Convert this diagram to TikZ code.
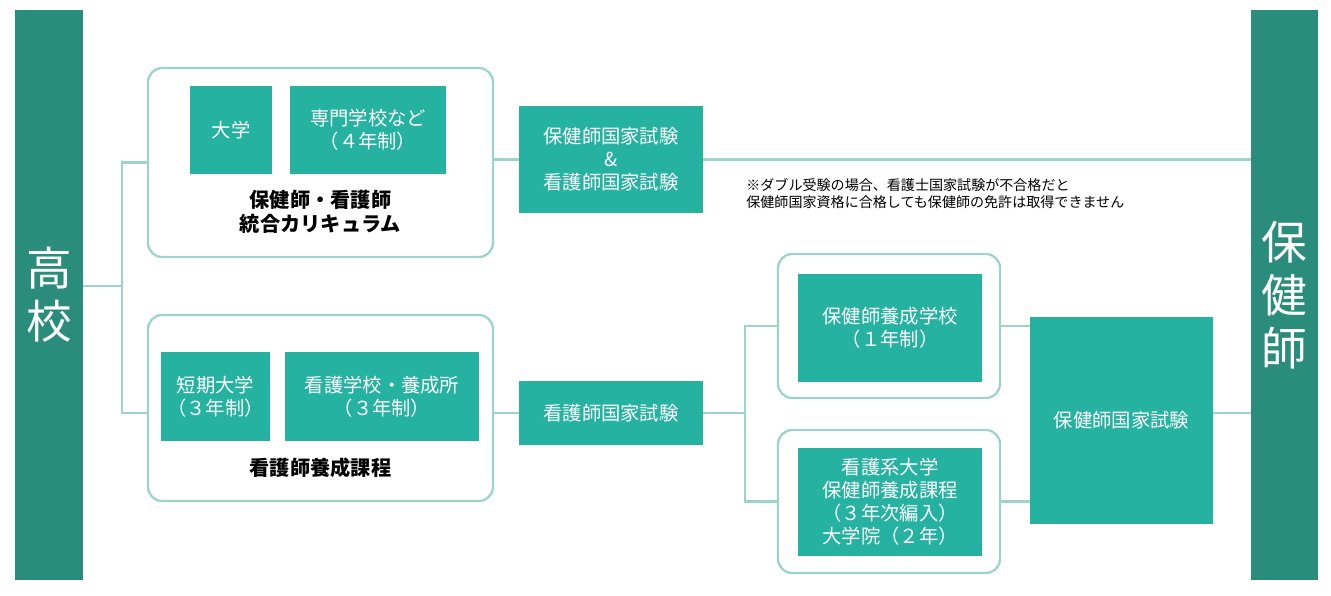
\documentclass[tikz,border=0pt]{standalone}
\usepackage{fontspec}
\setmainfont{Noto Sans CJK JP}
\usepackage{xcolor}
\usetikzlibrary{positioning}
\definecolor{bardark}{HTML}{2A8C7A}
\definecolor{boxteal}{HTML}{26B2A0}
\definecolor{lineteal}{HTML}{9CD4CA}
\tikzstyle{bar} = [rectangle, fill=bardark, text=white, inner sep=0pt, align=center, font=\fontsize{26}{30}\selectfont]
\tikzstyle{stage} = [rectangle, fill=boxteal, text=white, inner sep=0pt, align=center, font=\fontsize{11}{13}\selectfont]
\tikzstyle{group} = [rectangle, rounded corners=8pt, draw=lineteal, line width=1.3pt, inner sep=0pt]
\tikzstyle{link} = [draw=lineteal, line width=1.3pt]

\begin{document}
\begin{tikzpicture}[x=0.02cm, y=-0.02cm]
	\useasboundingbox (0,0) rectangle (1331,595);

	% side bars
	\node (koko) [bar, minimum width=1.36cm, minimum height=11.4cm] at (49,295) {高\\校};
	\node (hokenshi) [bar, minimum width=1.34cm, minimum height=11.4cm] at (1284.5,295) {保\\健\\師};

	% upper route
	\node (upper) [group, minimum width=6.9cm, minimum height=3.78cm] at (320.5,162.5) {};
	\node (daigaku) [stage, minimum width=1.64cm, minimum height=1.76cm] at (231,130) {大学};
	\node (senmon) [stage, minimum width=3.12cm, minimum height=1.76cm] at (368,130) {専門学校など\\（４年制）};
	\node (togo) [align=center, font=\fontsize{11.5}{14}\selectfont\bfseries] at (320.5,212) {保健師・看護師\\統合カリキュラム};
	\node (wexam) [stage, minimum width=3.68cm, minimum height=2.14cm] at (611,159.5) {保健師国家試験\\\&\\看護師国家試験};
	\node (note) [anchor=north west, align=left, inner sep=0pt, font=\fontsize{8}{9.5}\selectfont] at (746,178) {※ダブル受験の場合、看護士国家試験が不合格だと\\保健師国家資格に合格しても保健師の免許は取得できません};

	% lower route
	\node (lower) [group, minimum width=6.9cm, minimum height=3.72cm] at (320.5,408) {};
	\node (tanki) [stage, minimum width=2.18cm, minimum height=1.78cm] at (215.5,396.5) {短期大学\\（３年制）};
	\node (kango) [stage, minimum width=3.88cm, minimum height=1.78cm] at (382,396.5) {看護学校・養成所\\（３年制）};
	\node (yosei) [font=\fontsize{11.5}{14}\selectfont\bfseries] at (320.5,468) {看護師養成課程};
	\node (nexam) [stage, minimum width=3.68cm, minimum height=1.28cm] at (611,413) {看護師国家試験};

	\node (g1) [group, minimum width=4.44cm, minimum height=2.88cm] at (889,326) {};
	\node (school) [stage, minimum width=3.68cm, minimum height=2.16cm] at (890,328) {保健師養成学校\\（１年制）};
	\node (g2) [group, minimum width=4.44cm, minimum height=2.86cm] at (889,501.5) {};
	\node (hen) [stage, minimum width=3.68cm, minimum height=2.16cm] at (890,502) {看護系大学\\保健師養成課程\\（３年次編入）\\大学院（２年）};
	\node (pexam) [stage, minimum width=3.66cm, minimum height=4.14cm] at (1121.5,420.5) {保健師国家試験};

	% connectors
	\coordinate (split) at (122,286);
	\coordinate (split2) at (745,413);
	\draw[link] (koko.east |- split) -- (split);
	\draw[link] (split) |- (upper.west);
	\draw[link] (split) |- (lower.west |- nexam);
	\draw[link] (upper.east |- wexam) -- (wexam.west);
	\draw[link] (wexam.east) -- (hokenshi.west |- wexam);
	\draw[link] (lower.east |- nexam) -- (nexam.west);
	\draw[link] (nexam.east) -- (split2);
	\draw[link] (split2) |- (g1.west);
	\draw[link] (split2) |- (g2.west);
	\draw[link] (g1.east) -- (pexam.west |- g1.east);
	\draw[link] (g2.east) -- (pexam.west |- g2.east);
	\draw[link] (pexam.east |- nexam) -- (hokenshi.west |- nexam);
\end{tikzpicture}
\end{document}
